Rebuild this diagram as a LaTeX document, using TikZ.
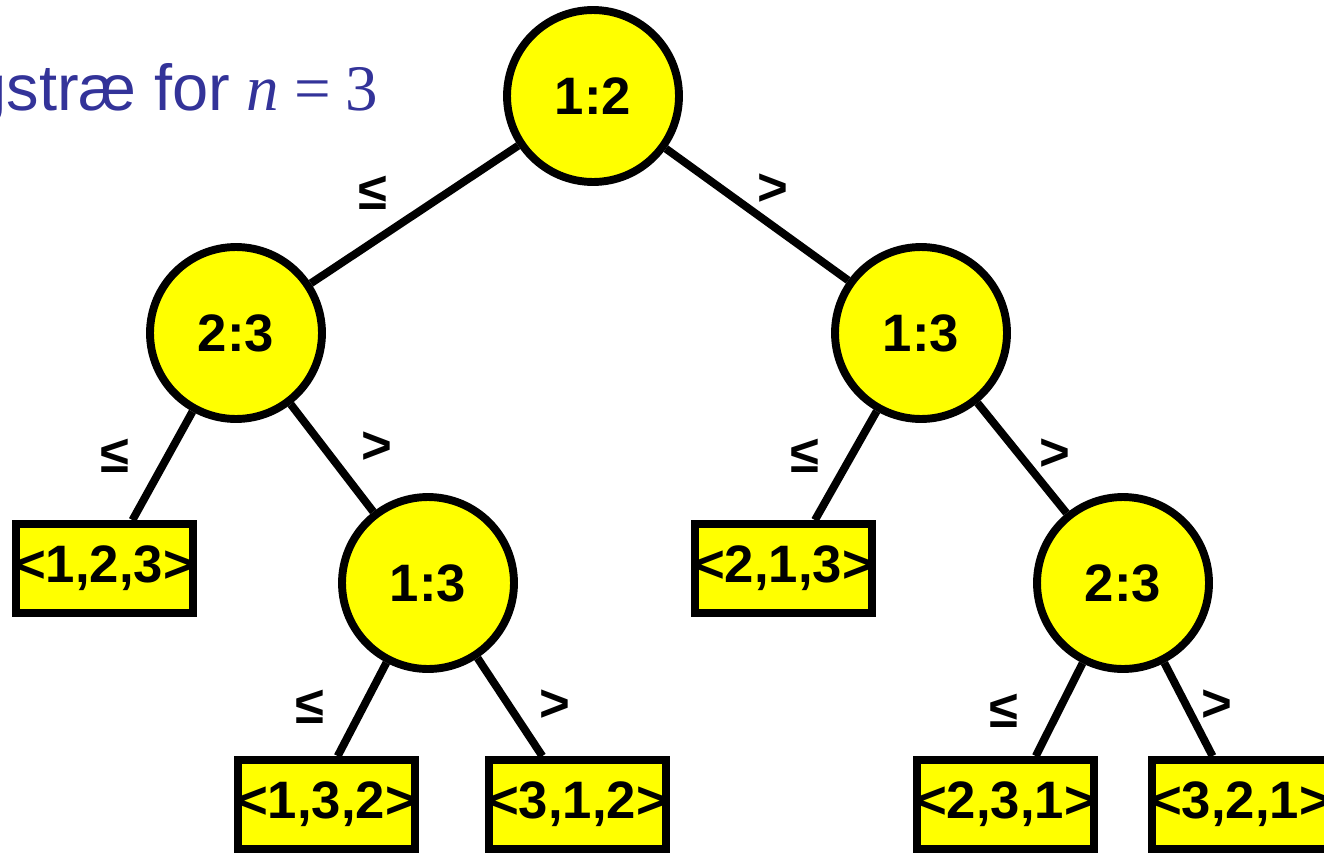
\documentclass[tikz,border=0pt]{standalone}
\usepackage{fontspec}
\setsansfont{Liberation Sans}
\newfontfamily\titleserif{Liberation Serif}
\usetikzlibrary{backgrounds}
\definecolor{nodeyellow}{HTML}{FFFF00}
\definecolor{titleblue}{HTML}{333399}
\newcommand{\treefont}{\sffamily\bfseries\fontsize{30}{36}\selectfont}
\newcommand{\titlefont}{\sffamily\fontsize{37}{44}\selectfont}

\begin{document}
\begin{tikzpicture}[x=0.02cm,y=-0.02cm,
    cmpnode/.style={circle,draw,fill=nodeyellow,line width=4.5pt,minimum size=3.44cm,inner sep=0pt,font=\treefont},
    leafbox/.style={rectangle,draw,fill=nodeyellow,line width=4.5pt,minimum width=3.54cm,minimum height=1.78cm,inner xsep=-2pt,inner ysep=0pt,font=\treefont},
    edgeline/.style={line width=4.5pt},
    cmplabel/.style={inner sep=0pt,font=\treefont}]
  \useasboundingbox (0,0) rectangle (1324,852);
  % heading, cut at the left edge
  \node[anchor=base east,inner sep=0pt,text=titleblue,font=\titlefont] (title) at (378,110)
    {gstræ for \kern-1.3pt\relax{\titleserif\itshape n} \kern-1.3pt\relax{\titleserif= \kern-1.3pt\relax 3}};
  % comparisons
  \node[cmpnode] (c12)  at (593,96)   {1:2};
  \node[cmpnode] (c23a) at (236,333)  {2:3};
  \node[cmpnode] (c13a) at (921,333)  {1:3};
  \node[cmpnode] (c13b) at (428,583)  {1:3};
  \node[cmpnode] (c23b) at (1123,583) {2:3};
  % leaves
  \foreach \lname/\lx/\ly/\ltext in {
      l123/104.5/568.5/{<1,2,3>},
      l213/783.5/568.5/{<2,1,3>},
      l132/326.5/804.5/{<1,3,2>},
      l312/577.5/804.5/{<3,1,2>},
      l231/1005.5/804.5/{<2,3,1>},
      l321/1240.5/804.5/{<3,2,1>}} {
    \node[leafbox] (\lname) at (\lx,\ly) {\ltext};
  }
  \begin{scope}[on background layer]
    \draw[edgeline] (c12) -- (c23a);
    \draw[edgeline] (c12) -- (c13a);
    \draw[edgeline] (c23a) -- (l123.60);
    \draw[edgeline] (c23a) -- (c13b);
    \draw[edgeline] (c13a) -- (l213.57);
    \draw[edgeline] (c13a) -- (c23b);
    \draw[edgeline] (c13b) -- (l132.77);
    \draw[edgeline] (c13b) -- (l312.126);
    \draw[edgeline] (c23b) -- (l231.58);
    \draw[edgeline] (c23b) -- (l321.120);
  \end{scope}
  % branch labels
  \foreach \bx/\by/\btext [count=\bnum] in {
      373/193/≤, 773/190/>,
      115/456/≤, 377/448/>,
      805/456/≤, 1055/455/>,
      310/707/≤, 555/706/>,
      1004/711/≤, 1217/706/>} {
    \node[cmplabel] (b\bnum) at (\bx,\by) {\btext};
  }
\end{tikzpicture}
\end{document}
